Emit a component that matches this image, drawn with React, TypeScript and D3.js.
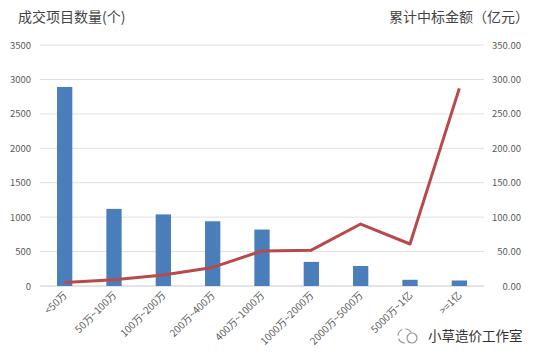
import React from 'react';
import * as d3 from 'd3';

const categories = ['<50万', '50万~100万', '100万~200万', '200万~400万', '400万~1000万', '1000万~2000万', '2000万~5000万', '5000万~1亿', '>=1亿'];
const projectCounts = [2890, 1120, 1040, 940, 820, 350, 290, 90, 80];
const cumulativeAmounts = [5, 9, 16, 27, 51, 52, 90, 61, 287];
const leftTicks = [0, 500, 1000, 1500, 2000, 2500, 3000, 3500];
const rightTicks = [0, 50, 100, 150, 200, 250, 300, 350];

const W = 536;
const H = 359;
const FONT = "'Microsoft YaHei', 'Noto Sans CJK SC', sans-serif";

const App = () => {
  const left = 40;
  const right = 484;
  const top = 45;
  const bottom = 286;

  const x = d3.scaleBand<string>()
    .domain(categories)
    .range([left, right])
    .paddingInner(0.69)
    .paddingOuter(0.345);
  const yLeft = d3.scaleLinear().domain([0, 3500]).range([bottom, top]);
  const yRight = d3.scaleLinear().domain([0, 350]).range([bottom, top]);

  const cx = (c: string) => (x(c) as number) + x.bandwidth() / 2;

  const line = d3.line<number>()
    .x((d, i) => cx(categories[i]))
    .y(d => yRight(d));

  return (
    <svg width={W} height={H} style={{ position: 'absolute', left: 0, top: 0, background: '#fff' }} fontFamily={FONT}>
      <rect x={0} y={0} width={W} height={H} fill="#fff" />
      {/* 标题 */}
      <text x={18} y={22} fontSize={14} fill="#444">成交项目数量(个)</text>
      <text x={529} y={22} fontSize={14} fill="#444" textAnchor="end">累计中标金额（亿元）</text>

      {/* 网格线 */}
      {leftTicks.map(t => (
        <line key={t} x1={left} x2={right} y1={yLeft(t)} y2={yLeft(t)}
          stroke={t === 0 ? '#c8c8c8' : '#e0e0e0'} strokeWidth={1} />
      ))}

      {/* 左轴 */}
      {leftTicks.map(t => (
        <text key={'l' + t} x={31} y={yLeft(t) + 3.5} fontSize={9.5} fill="#595959" textAnchor="end">{t}</text>
      ))}
      {/* 右轴 */}
      {rightTicks.map(t => (
        <text key={'r' + t} x={521} y={yRight(t) + 3.5} fontSize={9.5} fill="#595959" textAnchor="end">{t.toFixed(2)}</text>
      ))}

      {/* 柱子 */}
      {categories.map((c, i) => (
        <rect key={c} x={x(c)} y={yLeft(projectCounts[i])} width={x.bandwidth()}
          height={bottom - yLeft(projectCounts[i])} fill="#4a7ebb" />
      ))}

      {/* 折线 */}
      <path d={line(cumulativeAmounts) || ''} fill="none" stroke="#b94a4a" strokeWidth={3} strokeLinejoin="round" />

      {/* X轴标签 */}
      {categories.map(c => (
        <text key={'x' + c} transform={`translate(${cx(c) + 3},${bottom + 10}) rotate(-45)`}
          fontSize={10} fill="#595959" textAnchor="end">{c}</text>
      ))}

      {/* 水印 */}
      <g transform="translate(408,336)">
        <circle cx={-3} cy={0} r={7} fill="none" stroke="#999" strokeWidth={1.2} strokeDasharray="8,3" />
        <circle cx={4} cy={2} r={5} fill="#fff" stroke="#999" strokeWidth={1.2} />
      </g>
      <text x={428} y={341} fontSize={13.5} fill="#333">小草造价工作室</text>
    </svg>
  );
};

export default App;
